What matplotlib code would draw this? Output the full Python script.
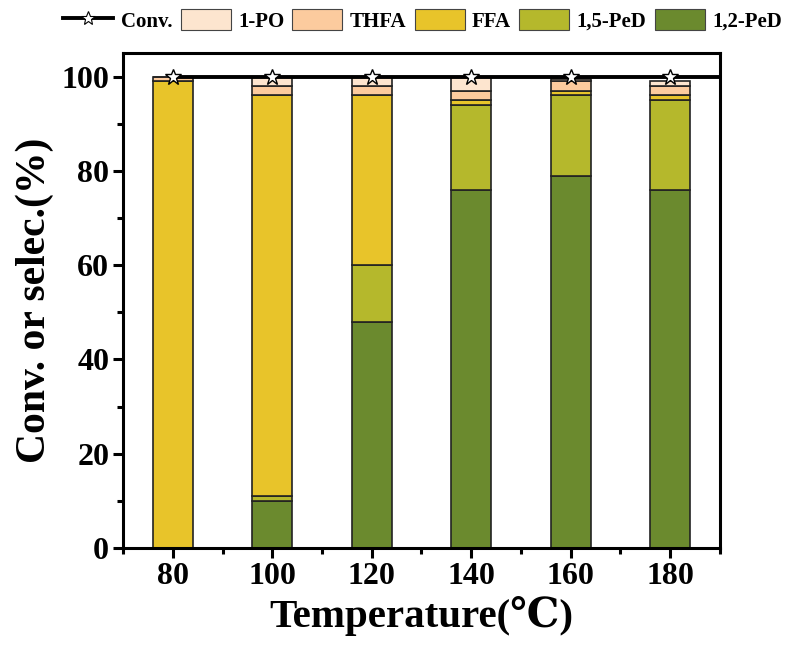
import matplotlib
matplotlib.use("Agg")
import matplotlib.pyplot as plt
import numpy as np
from matplotlib.lines import Line2D
from matplotlib.patches import Patch

temps = ["80", "100", "120", "140", "160", "180"]
ped12 = [0, 10, 48, 76, 79, 76]
ped15 = [0, 1, 12, 18, 17, 19]
ffa = [99, 85, 36, 1, 1, 1]
thfa = [1, 2, 2, 2, 2, 2]
po1 = [0, 2, 2, 3, 0.5, 1]
conv = [100, 100, 100, 100, 100, 100]

series = [("1,2-PeD", ped12, "#6B8A2E"),
          ("1,5-PeD", ped15, "#B5B82C"),
          ("FFA", ffa, "#E8C42A"),
          ("THFA", thfa, "#FCCB9E"),
          ("1-PO", po1, "#FDE5CF")]

plt.rcParams['font.family'] = ['Liberation Serif', 'DejaVu Serif']
plt.rcParams['font.weight'] = 'bold'

fig = plt.figure(figsize=(7.99, 6.52), dpi=100)
ax = fig.add_axes([0.154, 0.1595, 0.747, 0.7592])

x = np.arange(len(temps))
bottom = np.zeros(len(temps))
for name, vals, col in series:
    ax.bar(x, vals, width=0.4, bottom=bottom, color=col, edgecolor="#222222",
           linewidth=1.2, zorder=2)
    bottom += np.array(vals)

xmin, xmax = -0.5, len(temps) - 0.5
ax.plot(list(x) + [xmax], conv + [conv[-1]], color="black", lw=2.8, zorder=3,
        solid_capstyle="butt")
ax.plot(x, conv, ls="none", marker="*", ms=12, mfc="white", mec="black",
        mew=1.0, zorder=4)

ax.set_xlim(xmin, xmax)
ax.set_ylim(0, 105)
ax.set_xticks(x)
ax.set_xticklabels(temps)
ax.set_xticks(np.arange(xmin, xmax + 0.01, 1.0), minor=True)
ax.set_yticks([0, 20, 40, 60, 80, 100])
ax.set_yticks([10, 30, 50, 70, 90], minor=True)

for s in ax.spines.values():
    s.set_linewidth(2.2)
ax.tick_params(which="major", direction="out", length=7, width=2.2,
               labelsize=23, pad=3)
ax.tick_params(which="minor", direction="out", length=4, width=2.2)
for lab in ax.get_xticklabels() + ax.get_yticklabels():
    lab.set_fontweight("bold")

ax.set_xlabel("Temperature(\u2103)", fontsize=29.5, fontweight="bold", labelpad=4)
ax.set_ylabel("Conv. or selec.(%)", fontsize=30, fontweight="bold", labelpad=5)

handles = [Line2D([], [], color="black", lw=2.8, marker="*", ms=10,
                  mfc="white", mec="black", mew=0.8)]
labels = ["Conv."]
for name, vals, col in reversed(series):
    handles.append(Patch(facecolor=col, edgecolor="#444444", linewidth=0.8))
    labels.append(name)
fig.legend(handles, labels, loc="center", bbox_to_anchor=(0.529, 0.9686),
           ncol=6, frameon=False, prop={"weight": "bold", "size": 15},
           handlelength=2.4, handleheight=1.15, columnspacing=0.4,
           handletextpad=0.35, borderpad=0.1)

fig.savefig("out.png", dpi=100)
